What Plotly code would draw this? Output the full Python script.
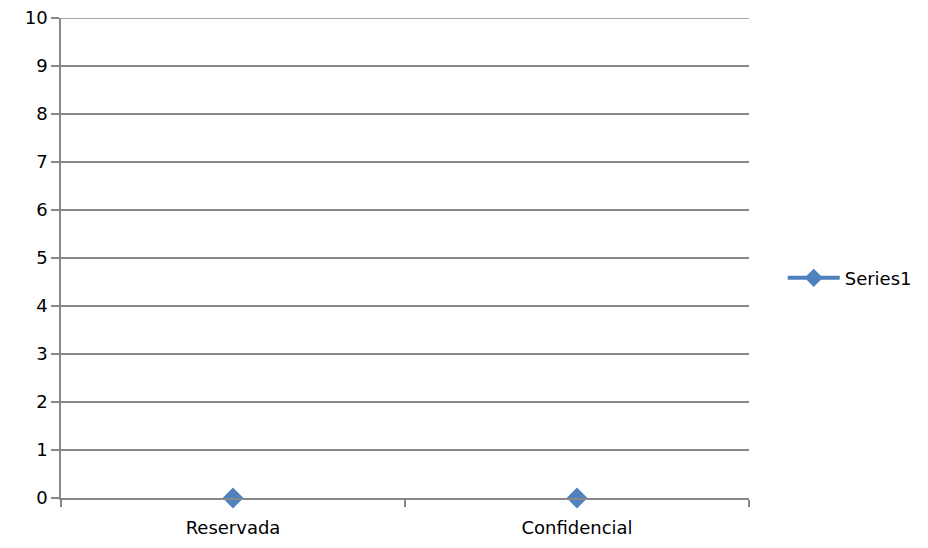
import plotly.graph_objects as go

categories = ["Reservada", "Confidencial"]
series1 = [0, 0]
y_ticks = list(range(0, 11))

grid = "#878787"
blue = "#4F81BD"
fig = go.Figure()
# markers of the series (line hidden behind the axis in the original)
fig.add_trace(go.Scatter(
    x=categories, y=series1, name="Series1", mode="markers",
    marker=dict(symbol="diamond", size=16, color=blue),
    cliponaxis=False, showlegend=False,
))
# legend entry showing line + marker
fig.add_trace(go.Scatter(
    x=categories, y=[None] * len(categories), name="Series1", mode="lines+markers",
    line=dict(color=blue, width=4),
    marker=dict(symbol="diamond", size=14, color=blue),
    showlegend=True,
))
# top gridline (Plotly drops the gridline at the plot edge)
fig.add_shape(type="line", xref="paper", x0=-8 / 688, x1=1, yref="y",
              y0=max(y_ticks), y1=max(y_ticks),
              line=dict(color=grid, width=1.5), layer="below")
fig.update_layout(
    width=928, height=548,
    margin=dict(l=53, r=187, t=10, b=58),
    paper_bgcolor="white", plot_bgcolor="white",
    font=dict(family="DejaVu Sans, Liberation Sans", size=18, color="#000000"),
    showlegend=True,
    legend=dict(x=1.049, y=0.458, xanchor="left", yanchor="middle",
                font=dict(size=18), itemwidth=52, bgcolor="rgba(0,0,0,0)"),
    xaxis=dict(type="category", range=[-0.5, 1.5], tickson="boundaries",
               ticks="outside", ticklen=7, tickcolor=grid, tickwidth=1.5,
               showline=True, linecolor=grid, linewidth=1.5,
               showgrid=False, zeroline=False, fixedrange=True,
               automargin=False, ticklabelstandoff=13),
    yaxis=dict(range=[0, 10.0001], tickvals=y_ticks, ticks="outside", ticklen=8,
               tickcolor=grid, tickwidth=1.5,
               showline=True, linecolor=grid, linewidth=1.5,
               showgrid=True, gridcolor=grid, gridwidth=1.5,
               zeroline=False, fixedrange=True, automargin=False,
               ticklabeloverflow="allow"),
)
fig.write_html("out.html")
